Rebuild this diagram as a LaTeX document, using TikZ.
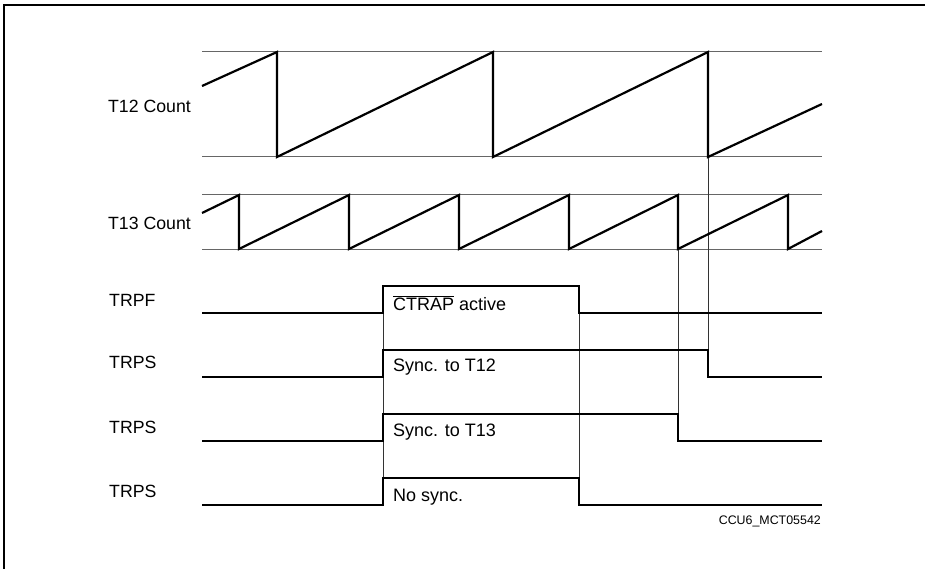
\documentclass[tikz,border=0pt]{standalone}
\usepackage{fontspec}
\setmainfont{Liberation Sans}
\begin{document}
\begin{tikzpicture}[x=1pt,y=-1pt,
  sig/.style={line width=2.2pt,line join=miter,line cap=butt},
  guide/.style={line width=0.8pt,black!80},
  refl/.style={line width=1pt,black!60},
  frame/.style={line width=1.3pt},
  lab/.style={font=\fontsize{17.7}{20}\selectfont,inner sep=0pt},
  inlab/.style={font=\fontsize{18}{20}\selectfont,inner sep=0pt,anchor=base west},
  tag/.style={font=\fontsize{12.4}{14}\selectfont,inner sep=0pt,anchor=base east}]
\useasboundingbox (0,0) rectangle (925,569);
% frame
\draw[frame] (4,569) -- (4,5) -- (926,5);
% left labels
\node[lab,anchor=base east] (l12) at (191,112.7) {T12 Count};
\node[lab,anchor=base east] (l13) at (191,229.3) {T13 Count};
\node[lab,anchor=base west] (lf) at (109,306) {TRPF};
\node[lab,anchor=base west] (ls1) at (109,368.3) {TRPS};
\node[lab,anchor=base west] (ls2) at (109,433.3) {TRPS};
\node[lab,anchor=base west] (ls3) at (109,497.7) {TRPS};
% reference lines
\draw[refl] (202,52) -- (822,52);
\draw[refl] (202,157) -- (822,157);
\draw[refl] (202,195) -- (822,195);
\draw[refl] (202,249) -- (822,249);
% guide lines
\draw[guide] (383,286) -- (383,505);
\draw[guide] (579,286) -- (579,505);
\draw[guide] (678,249) -- (678,441);
\draw[guide] (708,157) -- (708,377);
% T12 count
\draw[sig] (202,86) -- (277,52) -- (277,157) -- (493,52) -- (493,157) -- (708,52) -- (708,157) -- (822,104);
% T13 count
\draw[sig] (202,213) -- (239,195) -- (239,249) -- (349,195) -- (349,249) -- (459,195) -- (459,249)
  -- (569,195) -- (569,249) -- (678,195) -- (678,249) -- (788,195) -- (788,249) -- (822,231);
% TRPF
\draw[sig] (202,313) -- (383,313) -- (383,286) -- (579,286) -- (579,313) -- (822,313);
% TRPS sync T12
\draw[sig] (202,377) -- (383,377) -- (383,350) -- (708,350) -- (708,377) -- (822,377);
% TRPS sync T13
\draw[sig] (202,441) -- (383,441) -- (383,414) -- (678,414) -- (678,441) -- (822,441);
% TRPS no sync
\draw[sig] (202,505) -- (383,505) -- (383,478) -- (579,478) -- (579,505) -- (822,505);
% inner labels
\node[inlab] (t1) at (393,310) {$\overline{\mbox{CTRAP}}$ active};
\node[inlab] (t2) at (393,371) {Sync. to T12};
\node[inlab] (t3) at (393,436) {Sync. to T13};
\node[inlab] (t4) at (393,501) {No sync.};
\node[tag] (id) at (821,524) {CCU6\_MCT05542};
\end{tikzpicture}
\end{document}
